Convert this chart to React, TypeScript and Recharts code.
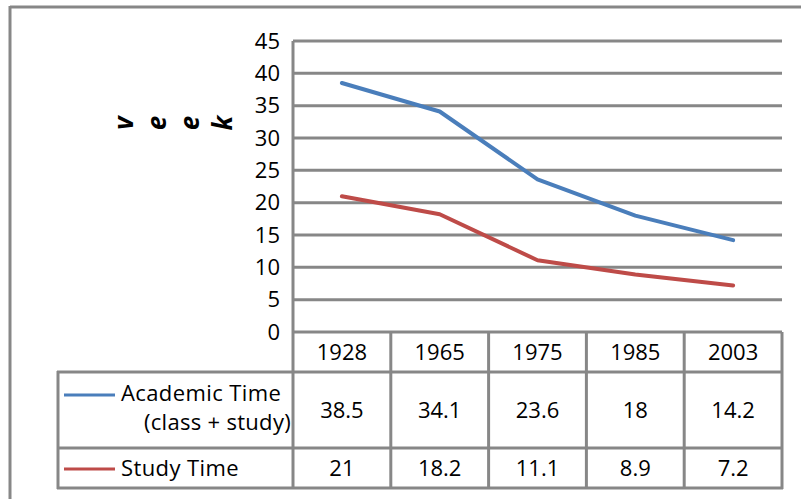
import { CartesianGrid, Customized, Line, LineChart, XAxis, YAxis } from "recharts"

const years = ["1928", "1965", "1975", "1985", "2003"]
const academicTime = [38.5, 34.1, 23.6, 18, 14.2]
const studyTime = [21, 18.2, 11.1, 8.9, 7.2]
const yTicks = [0, 5, 10, 15, 20, 25, 30, 35, 40, 45]
const axisLetters = ["v", "e", "e", "k"]

const BLUE = "#4a7ebb"
const RED = "#be4b48"
const GRID = "#878787"
const FONT = "'Open Sans', sans-serif"

const WIDTH = 801
const HEIGHT = 499
const PLOT_LEFT = 293
const PLOT_RIGHT = 782
const BAND = (PLOT_RIGHT - PLOT_LEFT) / years.length

const data = years.map((year, i) => ({
  year,
  academic: academicTime[i],
  study: studyTime[i],
}))

function TableTick(props: any) {
  const { x, y, payload } = props
  const i = payload.index
  const half = BAND / 2
  return (
    <g fontFamily={FONT} fontSize={22} fill="#000">
      <text x={x} y={y + 28} textAnchor="middle">{payload.value}</text>
      <text x={x} y={y + 86} textAnchor="middle">{academicTime[i]}</text>
      <text x={x} y={y + 144} textAnchor="middle">{studyTime[i]}</text>
      <line x1={x + half} x2={x + half} y1={y} y2={y + 157} stroke={GRID} strokeWidth={3} />
      {i === 0 && <line x1={x - half} x2={x - half} y1={y} y2={y + 157} stroke={GRID} strokeWidth={3} />}
    </g>
  )
}

function Frame() {
  return (
    <g fontFamily={FONT} fontSize={22} fill="#000">
      {/* outer chart border (only top and left are visible) */}
      <line x1={10} x2={WIDTH} y1={7} y2={7} stroke={GRID} strokeWidth={3} />
      <line x1={10} x2={10} y1={6} y2={HEIGHT} stroke={GRID} strokeWidth={3} />

      {/* data table rows */}
      <line x1={57} x2={PLOT_RIGHT + 1} y1={372} y2={372} stroke={GRID} strokeWidth={3} />
      <line x1={57} x2={PLOT_RIGHT + 1} y1={448} y2={448} stroke={GRID} strokeWidth={3} />
      <line x1={57} x2={PLOT_RIGHT + 1} y1={488} y2={488} stroke={GRID} strokeWidth={3} />
      <line x1={58} x2={58} y1={371} y2={489} stroke={GRID} strokeWidth={3} />

      {/* legend keys */}
      <line x1={64} x2={115} y1={395} y2={395} stroke={BLUE} strokeWidth={3} />
      <text x={121} y={401} letterSpacing={0.4}>Academic Time</text>
      <text x={291} y={430} textAnchor="end" letterSpacing={0.3}>(class + study)</text>
      <line x1={64} x2={115} y1={469} y2={469} stroke={RED} strokeWidth={3} />
      <text x={121} y={476} letterSpacing={0.4}>Study Time</text>

      {/* axis title, letters turned on their side */}
      {axisLetters.map((ch, i) => {
        const cx = 123 + i * 33
        return (
          <text
            key={i}
            x={cx}
            y={123}
            fontSize={26}
            textAnchor="middle"
            dominantBaseline="central"
            fontWeight="bold"
            fontStyle="italic"
            transform={`rotate(-90 ${cx} 123)`}
          >
            {ch}
          </text>
        )
      })}
    </g>
  )
}

export default function App() {
  return (
    <div style={{ position: "absolute", left: 0, top: 0, background: "#fff" }}>
      <LineChart
        width={WIDTH}
        height={HEIGHT}
        data={data}
        margin={{ top: 41, right: WIDTH - PLOT_RIGHT, left: 0, bottom: 0 }}
        style={{ fontFamily: FONT }}
      >
        <CartesianGrid vertical={false} stroke={GRID} strokeWidth={3} />
        <XAxis
          dataKey="year"
          height={HEIGHT - 332}
          padding={{ left: BAND / 2, right: BAND / 2 }}
          axisLine={false}
          tickLine={false}
          tickSize={0}
          tickMargin={0}
          interval={0}
          tick={<TableTick />}
        />
        <YAxis
          width={PLOT_LEFT}
          domain={[0, 45]}
          ticks={yTicks}
          interval={0}
          tickSize={0}
          tickMargin={13}
          tickLine={false}
          axisLine={{ stroke: GRID, strokeWidth: 3 }}
          tick={{ fill: "#000", fontSize: 22, fontFamily: FONT }}
        />
        <Line
          type="linear"
          dataKey="academic"
          stroke={BLUE}
          strokeWidth={4}
          strokeLinecap="round"
          strokeLinejoin="round"
          dot={false}
          isAnimationActive={false}
        />
        <Line
          type="linear"
          dataKey="study"
          stroke={RED}
          strokeWidth={4}
          strokeLinecap="round"
          strokeLinejoin="round"
          dot={false}
          isAnimationActive={false}
        />
        <Customized component={Frame} />
      </LineChart>
    </div>
  )
}
